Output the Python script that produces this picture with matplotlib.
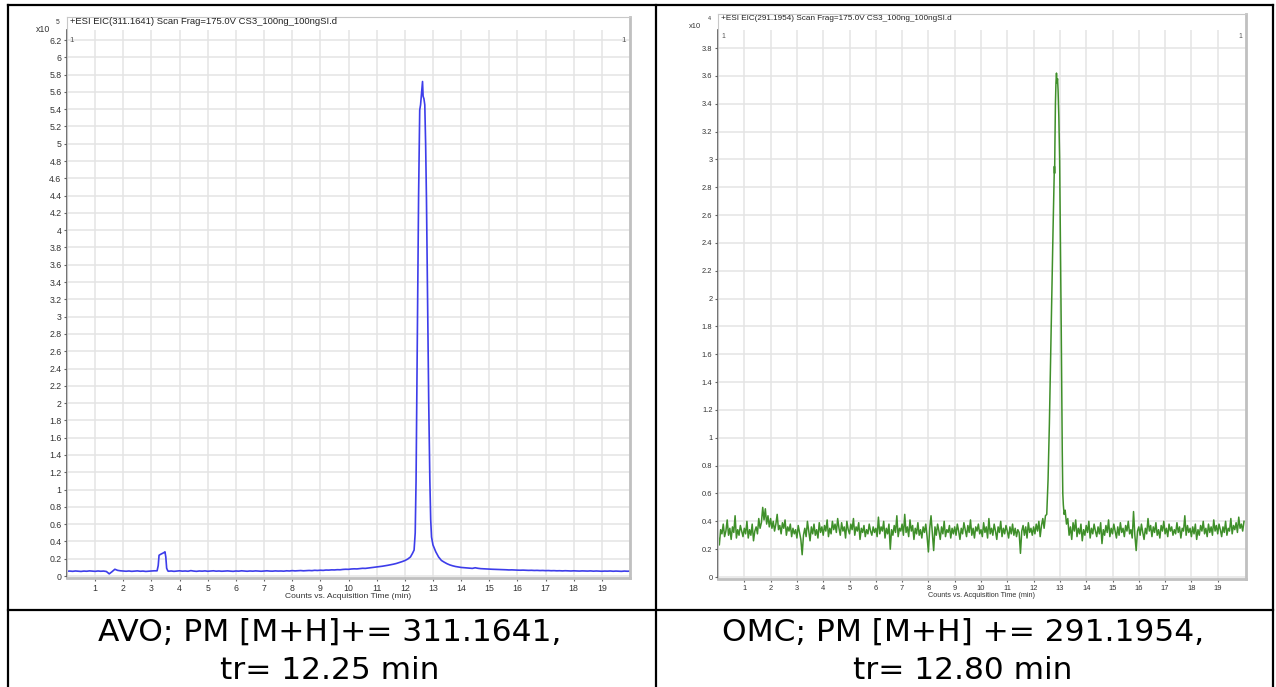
import numpy as np
import matplotlib
matplotlib.use('Agg')
import matplotlib.pyplot as plt
from matplotlib.lines import Line2D

W, H = 1276, 687

# ---------------- 数据 AVO (x10^5) ----------------
avo_base1 = [0.055, 0.057, 0.054, 0.058, 0.056, 0.053, 0.057, 0.055, 0.059, 0.056,
             0.054, 0.058, 0.055, 0.057, 0.052, 0.025, 0.050, 0.078, 0.065, 0.060,
             0.057, 0.055, 0.058, 0.054, 0.056, 0.059, 0.055, 0.057, 0.053, 0.056,
             0.058, 0.060]                       # 0.0 - 3.1 min
avo_small_t = [3.2, 3.24, 3.27, 3.32, 3.38, 3.44, 3.48, 3.51, 3.54, 3.58]
avo_small_y = [0.06, 0.12, 0.24, 0.25, 0.26, 0.27, 0.28, 0.22, 0.09, 0.06]
avo_base2 = [0.055, 0.058, 0.054, 0.057, 0.060, 0.056, 0.058, 0.055, 0.062, 0.057,
             0.054, 0.058, 0.056, 0.059, 0.055, 0.057, 0.060, 0.056, 0.058, 0.055,
             0.057, 0.059, 0.056, 0.054, 0.058, 0.056, 0.060, 0.057, 0.055, 0.058,
             0.056, 0.059, 0.057, 0.055, 0.058, 0.060, 0.057, 0.056, 0.059, 0.057,
             0.058, 0.056, 0.060, 0.058, 0.062, 0.059, 0.061, 0.063, 0.060, 0.062,
             0.064, 0.062, 0.066, 0.064, 0.067, 0.065, 0.069, 0.068, 0.071, 0.070,
             0.073, 0.072, 0.076, 0.078, 0.077, 0.081, 0.083, 0.082, 0.086, 0.089,
             0.088, 0.092, 0.096, 0.099, 0.104, 0.108, 0.113, 0.118, 0.124, 0.130,
             0.137, 0.145, 0.155, 0.166, 0.178, 0.195]   # 3.6 - 12.1 min
avo_peak_t = [12.2, 12.27, 12.33, 12.37, 12.4, 12.43, 12.46, 12.49, 12.53, 12.56,
              12.6, 12.63, 12.65, 12.68, 12.71, 12.74, 12.77, 12.81, 12.85, 12.89,
              12.92, 12.95, 13.0, 13.1, 13.2, 13.3]
avo_peak_y = [0.22, 0.26, 0.30, 0.50, 1.10, 2.20, 3.20, 4.40, 5.39, 5.45,
              5.60, 5.72, 5.55, 5.52, 5.45, 5.00, 4.35, 3.19, 2.00, 1.10,
              0.65, 0.45, 0.36, 0.28, 0.22, 0.18]
avo_base3 = [0.160, 0.142, 0.128, 0.118, 0.110, 0.104, 0.099, 0.096, 0.092, 0.090,
             0.088, 0.095, 0.089, 0.085, 0.083, 0.081, 0.080, 0.078, 0.077, 0.075,
             0.074, 0.073, 0.072, 0.070, 0.071, 0.069, 0.068, 0.067, 0.068, 0.066,
             0.065, 0.066, 0.064, 0.065, 0.063, 0.064, 0.062, 0.063, 0.061, 0.062,
             0.060, 0.061, 0.059, 0.061, 0.060, 0.058, 0.060, 0.059, 0.057, 0.059,
             0.058, 0.057, 0.059, 0.056, 0.058, 0.057, 0.055, 0.057, 0.056, 0.058,
             0.055, 0.057, 0.056, 0.054, 0.057, 0.055, 0.056]   # 13.4 - 20.0 min

# ---------------- 数据 OMC (x10^4) ----------------
omc_base1 = [
    0.30, 0.23, 0.34, 0.31, 0.38, 0.29, 0.33, 0.41, 0.30, 0.35, 0.27, 0.36, 0.32, 0.44, 0.28, 0.34, 0.30, 0.37, 0.33, 0.29,
    0.35, 0.31, 0.40, 0.28, 0.34, 0.30, 0.38, 0.26, 0.33, 0.36, 0.31, 0.42, 0.35, 0.39, 0.50, 0.41, 0.49, 0.38, 0.44, 0.36,
    0.42, 0.35, 0.40, 0.33, 0.38, 0.45, 0.34, 0.37, 0.31, 0.39, 0.35, 0.41, 0.30, 0.36, 0.33, 0.38, 0.29, 0.35, 0.31, 0.34,
    0.28, 0.37, 0.32, 0.27, 0.16, 0.30, 0.35, 0.29, 0.40, 0.33, 0.26, 0.36, 0.31, 0.38, 0.30, 0.34, 0.28, 0.39, 0.32, 0.36,
    0.30, 0.37, 0.33, 0.41, 0.29, 0.35, 0.31, 0.40, 0.34, 0.38, 0.32, 0.42, 0.35, 0.30, 0.39, 0.33, 0.36, 0.28, 0.40, 0.34,
    0.31, 0.38, 0.34, 0.42, 0.30, 0.36, 0.33, 0.39, 0.27, 0.35, 0.32, 0.37, 0.29, 0.34, 0.31, 0.38, 0.33, 0.30, 0.36, 0.32,
    0.35, 0.29, 0.43, 0.31, 0.36, 0.33, 0.40, 0.28, 0.35, 0.31, 0.38, 0.20, 0.34, 0.30, 0.37, 0.32, 0.44, 0.29, 0.35, 0.33,
    0.38, 0.30, 0.45, 0.32, 0.36, 0.29, 0.41, 0.33, 0.37, 0.27, 0.35, 0.31, 0.39, 0.30, 0.34, 0.28, 0.36, 0.32, 0.38, 0.29,
    0.18, 0.35, 0.44, 0.31, 0.19, 0.36, 0.30, 0.38, 0.33, 0.27, 0.36, 0.31, 0.40, 0.29, 0.34, 0.32, 0.37, 0.28, 0.35, 0.31,
    0.36, 0.30, 0.38, 0.33, 0.27, 0.35, 0.31, 0.39, 0.34, 0.29, 0.37, 0.32, 0.41, 0.30, 0.35, 0.28, 0.36, 0.33, 0.38, 0.31,
    0.34, 0.29, 0.39, 0.32, 0.36, 0.28, 0.42, 0.31, 0.35, 0.30, 0.38, 0.33, 0.27, 0.36, 0.32, 0.40, 0.29, 0.35, 0.31, 0.37,
    0.33, 0.28, 0.36, 0.31, 0.38, 0.30, 0.35, 0.29, 0.34, 0.32, 0.17, 0.33, 0.37, 0.30, 0.36, 0.28, 0.39, 0.32, 0.35, 0.30,
    0.36, 0.31, 0.38, 0.33, 0.40, 0.29, 0.37, 0.42, 0.35, 0.44]          # 0.0 - 12.45 min
omc_peak_t = [12.5, 12.55, 12.6, 12.65, 12.7, 12.74, 12.77, 12.79, 12.8, 12.81,
              12.83, 12.85, 12.87, 12.89, 12.91, 12.93, 12.96, 12.99, 13.01, 13.03,
              13.05, 13.07, 13.09, 13.11, 13.13, 13.16]
omc_peak_y = [0.45, 0.70, 1.10, 1.60, 2.10, 2.50, 2.75, 2.95, 2.90, 3.10,
              3.40, 3.55, 3.62, 3.55, 3.58, 3.50, 3.30, 3.00, 2.60, 2.20,
              1.80, 1.30, 0.90, 0.60, 0.52, 0.45]
omc_base2 = [
    0.48, 0.38, 0.42, 0.30, 0.36, 0.27, 0.39, 0.33, 0.41, 0.29, 0.35, 0.31, 0.38, 0.26, 0.34, 0.30,
    0.37, 0.32, 0.40, 0.28, 0.35, 0.31, 0.38, 0.33, 0.29, 0.36, 0.31, 0.39, 0.24, 0.34, 0.30, 0.37, 0.32, 0.41, 0.29, 0.35,
    0.31, 0.38, 0.33, 0.28, 0.36, 0.30, 0.39, 0.32, 0.35, 0.29, 0.37, 0.33, 0.40, 0.31, 0.34, 0.28, 0.47, 0.30, 0.19, 0.33,
    0.36, 0.30, 0.38, 0.32, 0.27, 0.35, 0.31, 0.42, 0.33, 0.37, 0.29, 0.36, 0.32, 0.39, 0.30, 0.34, 0.28, 0.37, 0.33, 0.40,
    0.31, 0.35, 0.29, 0.38, 0.33, 0.36, 0.30, 0.34, 0.31, 0.39, 0.32, 0.36, 0.28, 0.35, 0.33, 0.44, 0.30, 0.37, 0.32, 0.35,
    0.29, 0.36, 0.31, 0.38, 0.27, 0.34, 0.30, 0.37, 0.33, 0.40, 0.31, 0.35, 0.29, 0.38, 0.32, 0.36, 0.30, 0.41, 0.33, 0.37,
    0.31, 0.38, 0.34, 0.29, 0.36, 0.32, 0.40, 0.30, 0.35, 0.33, 0.42, 0.31, 0.37, 0.34, 0.39, 0.32, 0.43, 0.35, 0.38, 0.33,
    0.40]                                                                # 13.2 - 20.0 min

avo_title = '+ESI EIC(311.1641) Scan Frag=175.0V CS3_100ng_100ngSI.d'
omc_title = '+ESI EIC(291.1954) Scan Frag=175.0V CS3_100ng_100ngSI.d'
avo_caption = ['AVO; PM [M+H]+= 311.1641,', 'tr= 12.25 min']
omc_caption = ['OMC; PM [M+H] += 291.1954,', 'tr= 12.80 min']
x_ticks = list(range(1, 20))
avo_yticks = [round(0.2 * i, 1) for i in range(32)]
omc_yticks = [round(0.2 * i, 1) for i in range(20)]


def seg(start, vals, step):
    return [round(start + step * i, 3) for i in range(len(vals))]


avo_t = seg(0.0, avo_base1, 0.1) + avo_small_t + seg(3.6, avo_base2, 0.1) + avo_peak_t + seg(13.4, avo_base3, 0.1)
avo_y = avo_base1 + avo_small_y + avo_base2 + avo_peak_y + avo_base3
omc_t = seg(0.0, omc_base1, 0.05) + omc_peak_t + seg(13.2, omc_base2, 0.05)
omc_y = omc_base1 + omc_peak_y + omc_base2


def fx(x):
    return x / W


def fy(y):
    return 1 - y / H


fig = plt.figure(figsize=(W / 100, H / 100), dpi=100)
fig.patch.set_facecolor('white')

# 两个色谱图 (像素框: left, top, right, bottom)
panels = [
    dict(box=(67, 17, 630, 578), t=avo_t, y=avo_y, color='#3d3dea', yt=avo_yticks,
         ylim=(-2 / 86.45, 559 / 86.45), xlim=(0, 20), gtop=6.32, fs=6.3,
         title=avo_title, exp='5', lw=1.2),
    dict(box=(718, 14, 1246, 579), t=omc_t, y=omc_y, color='#3f8f2a', yt=omc_yticks,
         ylim=(-2 / 139.2, 563 / 139.2), xlim=(0, 528 / 26.3), gtop=3.93, fs=5.4,
         title=omc_title, exp='4', lw=1.1),
]

for p in panels:
    l, t, r, b = p['box']
    ax = fig.add_axes([fx(l), fy(b), (r - l) / W, (b - t) / H])
    ax.set_xlim(*p['xlim'])
    ax.set_ylim(*p['ylim'])
    ax.set_yticks(p['yt'])
    ax.set_yticklabels(['%g' % v for v in p['yt']])
    ax.set_xticks(x_ticks)
    ax.grid(axis='y', color='#e4e4e4', lw=1.1)
    ax.vlines(x_ticks, p['ylim'][0], p['gtop'], color='#e4e4e4', lw=1.1, zorder=0)
    ax.set_axisbelow(True)
    ax.plot(p['t'], p['y'], color=p['color'], lw=p['lw'])
    # 左侧深色坐标轴线
    ax.plot([0, 0], [p['ylim'][0], p['gtop']], color='#555555', lw=1.2, clip_on=False)
    for s in ['top', 'left']:
        ax.spines[s].set_color('#c8c8c8')
        ax.spines[s].set_linewidth(0.8)
    for s in ['right', 'bottom']:
        ax.spines[s].set_color('#c0c0c0')
        ax.spines[s].set_linewidth(2.0)
    ax.tick_params(axis='both', length=2.5, width=0.8, color='#666666',
                   labelsize=p['fs'], labelcolor='#333333', pad=1.5)
    ax.set_xlabel('Counts vs. Acquisition Time (min)', fontsize=p['fs'] - 0.2,
                  color='#333333', labelpad=0.5, family='Liberation Sans')
    for lab in ax.get_xticklabels() + ax.get_yticklabels():
        lab.set_family('Liberation Sans')
    # 标题与 x10 标记
    fig.text(fx(l + 3), fy(t + 4), p['title'], fontsize=p['fs'] + 0.5, family='Liberation Sans',
             color='#222222', va='center', ha='left')
    fig.text(fx(l - 17), fy(t + 12), 'x10', fontsize=p['fs'], family='Liberation Sans',
             color='#333333', va='center', ha='right')
    fig.text(fx(l - 9), fy(t + 5), p['exp'], fontsize=p['fs'] - 1.5, family='Liberation Sans',
             color='#333333', va='center', ha='center')
    fig.text(fx(l + 5), fy(t + 23), '1', fontsize=p['fs'] - 0.5, family='Liberation Sans',
             color='#555555', va='center', ha='center')
    fig.text(fx(r - 6), fy(t + 23), '1', fontsize=p['fs'] - 0.5, family='Liberation Sans',
             color='#555555', va='center', ha='center')

# 表格下方的说明文字
for cx, cap in [(330, avo_caption), (963, omc_caption)]:
    fig.text(fx(cx), fy(641), cap[0], fontsize=22.5, family='DejaVu Sans', ha='center', va='baseline')
    fig.text(fx(cx), fy(679), cap[1], fontsize=22.5, family='DejaVu Sans', ha='center', va='baseline')

# 表格边框
for xa, ya, xb, yb in [(8, 5, 8, 687), (656, 5, 656, 687), (1273, 5, 1273, 687),
                       (8, 5, 1273, 5), (8, 610, 1273, 610)]:
    fig.add_artist(Line2D([fx(xa), fx(xb)], [fy(ya), fy(yb)], color='black', lw=1.6,
                          transform=fig.transFigure))

fig.savefig('out.png', dpi=100)
